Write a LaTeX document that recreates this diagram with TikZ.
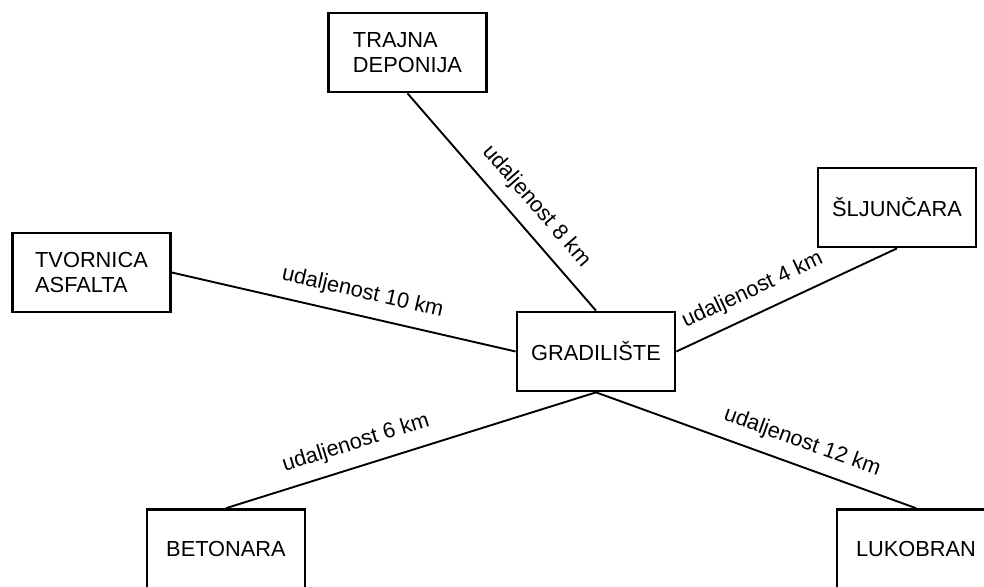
\documentclass[tikz,border=0pt]{standalone}
\usepackage{fontspec}
\setmainfont{Liberation Sans}

\begin{document}
\begin{tikzpicture}
[-,x=0.5pt,y=-0.5pt,%
  site/.style={shape=rectangle,draw,line width=1.35pt,minimum width=79pt,minimum height=39.5pt,align=left},%
  road/.style={line width=0.95pt},%
  dist/.style={sloped,above=4pt,inner sep=2pt}]
\fontsize{10.9}{12.8}\selectfont
\useasboundingbox (0,0) rectangle (984,586);
\node[site] (gradiliste) at (596,351.5) {GRADILIŠTE};
\node[site] (trajna) at (407.5,52.5) {TRAJNA\\DEPONIJA};
\node[site] (sljuncara) at (897,207.5) {ŠLJUNČARA};
\node[site] (tvornica) at (91.5,272.5) {TVORNICA\\ASFALTA};
\node[site] (betonara) at (226,549) {BETONARA};
\node[site] (lukobran) at (916,549) {LUKOBRAN};
\draw[road] (trajna.south) -- node[dist,pos=0.59] {udaljenost 8 km} (gradiliste.north);
\draw[road] (gradiliste.east) -- node[dist,pos=0.39] {udaljenost 4 km} (sljuncara.south);
\draw[road] (tvornica.east) -- node[dist,pos=0.54] {udaljenost 10 km} (gradiliste.west);
\draw[road] (betonara.north) -- node[dist,pos=0.37] {udaljenost 6 km} (gradiliste.south);
\draw[road] (gradiliste.south) -- node[dist,pos=0.62] {udaljenost 12 km} (lukobran.north);
\end{tikzpicture}
\end{document}
